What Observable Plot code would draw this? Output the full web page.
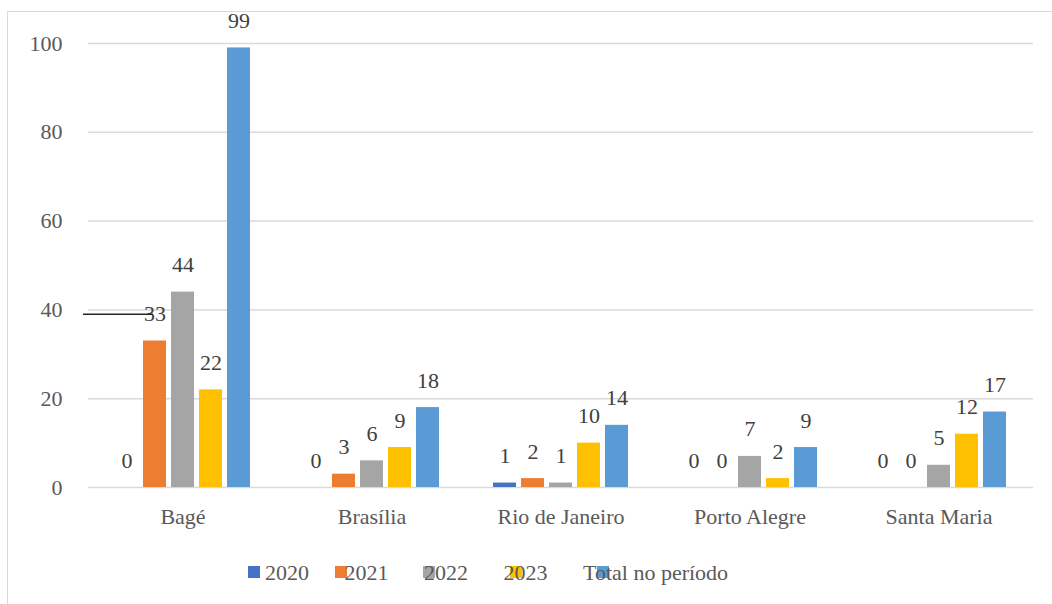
<!DOCTYPE html>
<html>
<head>
<meta charset="utf-8">
<script src="https://cdn.jsdelivr.net/npm/d3@7"></script>
<script src="https://cdn.jsdelivr.net/npm/@observablehq/plot@0.6"></script>
<style>
  html, body { margin: 0; padding: 0; background: #fff; overflow: hidden; }
  #wrap { position: relative; width: 1052px; height: 604px; overflow: hidden; font-family: "Liberation Serif", "Times New Roman", serif; }
  #border { position: absolute; left: 7px; top: 11px; width: 1100px; height: 700px; border: 1px solid #d9d9d9; box-sizing: border-box; }
  #chart { position: absolute; left: 0; top: 0; }
  #chart svg { color: #595959; }
  .lg-sq { position: absolute; width: 12px; height: 12px; top: 566px; }
  .lg-tx { position: absolute; top: 560px; font-size: 22px; line-height: 26px; color: #595959; white-space: nowrap; }
</style>
</head>
<body>
<div id="wrap">
  <div id="border"></div>
  <div id="chart"></div>
  <div id="legend"></div>
</div>
<script>
const categories = ["Bagé", "Brasília", "Rio de Janeiro", "Porto Alegre", "Santa Maria"];
const seriesNames = ["2020", "2021", "2022", "2023", "Total no período"];
const v2020 = [0, 0, 1, 0, 0];
const v2021 = [33, 3, 2, 0, 0];
const v2022 = [44, 6, 1, 7, 5];
const v2023 = [22, 9, 10, 2, 12];
const vTotal = [99, 18, 14, 9, 17];
const seriesColors = ["#4472C4", "#ED7D31", "#A5A5A5", "#FFC000", "#5B9BD5"];
const yTicks = [0, 20, 40, 60, 80, 100];
const strikeValue = [39];

const seriesValues = [v2020, v2021, v2022, v2023, vTotal];
const rows = [];
categories.forEach((c, i) => {
  seriesNames.forEach((s, j) => {
    rows.push({category: c, series: s, value: seriesValues[j][i]});
  });
});

const chart = Plot.plot({
  width: 1052,
  height: 540,
  marginLeft: 88,
  marginRight: 19,
  marginTop: 43,
  marginBottom: 53,
  style: {fontFamily: "'Liberation Serif', 'Times New Roman', serif", fontSize: "22px", background: "transparent", overflow: "visible"},
  fx: {domain: categories, padding: 0, axis: "bottom", tickSize: 0, tickPadding: 21, label: null},
  x: {domain: seriesNames, paddingInner: 0.183, paddingOuter: 0.874, axis: null},
  y: {domain: [0, 100], ticks: yTicks, tickSize: 0, tickPadding: 26, label: null},
  color: {domain: seriesNames, range: seriesColors},
  marks: [
    Plot.ruleY(yTicks, {stroke: "#d9d9d9", strokeWidth: 1.5}),
    Plot.barY(rows, {fx: "category", x: "series", y: "value", fill: "series"}),
    Plot.text(rows, {fx: "category", x: "series", y: "value", text: d => String(d.value), dy: -27, fill: "#404040", fontSize: 22}),
    Plot.ruleY(strikeValue, {fx: () => "Bagé", stroke: "#262626", strokeWidth: 1.5, insetLeft: -5, insetRight: 124})
  ]
});
document.getElementById("chart").appendChild(chart);

const legend = document.getElementById("legend");
seriesNames.forEach((s, i) => {
  const sq = document.createElement("div");
  sq.className = "lg-sq";
  sq.style.left = (248 + i * 87.25) + "px";
  sq.style.background = seriesColors[i];
  legend.appendChild(sq);
});
seriesNames.forEach((s, i) => {
  const tx = document.createElement("div");
  tx.className = "lg-tx";
  tx.style.left = (265 + i * 79.5) + "px";
  tx.textContent = s;
  legend.appendChild(tx);
});
</script>
</body>
</html>
